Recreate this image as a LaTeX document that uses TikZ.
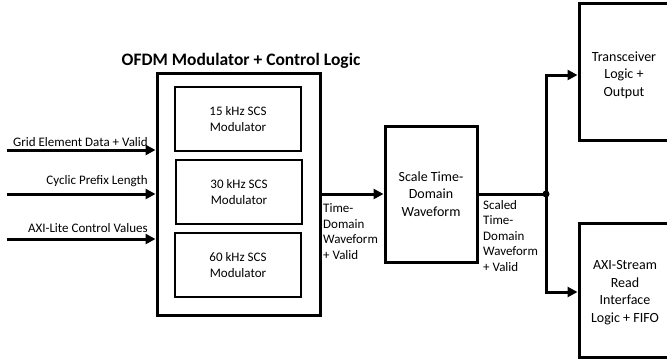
\documentclass[tikz,border=0pt]{standalone}
\usepackage{fontspec}
\setmainfont{Carlito}
\usetikzlibrary{arrows.meta}
\begin{document}
\begin{tikzpicture}[x=1pt,y=-1pt,
  thickbox/.style={draw,line width=3pt,inner sep=0pt},
  thinbox/.style={draw,line width=1.5pt,inner sep=0pt,align=center,font=\fontsize{13}{15.5}\selectfont},
  boxtext/.style={align=center,font=\fontsize{14}{17.5}\selectfont},
  lbl/.style={align=left,font=\fontsize{13}{15.5}\selectfont,inner sep=0pt},
  arr/.style={line width=3pt,-{Triangle[length=10pt,width=10pt]}},
  wire/.style={line width=3pt},
]
\useasboundingbox (0,0) rectangle (667,360);
% OFDM block
\node[thickbox,minimum width=163pt,minimum height=242pt] (ofdm) at (238.5,194) {};
\node[font=\bfseries\fontsize{17.5}{20}\selectfont,inner sep=0pt] (title) at (241,61) {OFDM Modulator + Control Logic};
\node[thinbox,minimum width=126pt,minimum height=64pt] (m15) at (238,119) {15 kHz SCS\\Modulator};
\node[thinbox,minimum width=126pt,minimum height=64pt] (m30) at (239,192) {30 kHz SCS\\Modulator};
\node[thinbox,minimum width=126pt,minimum height=64pt] (m60) at (238,265) {60 kHz SCS\\Modulator};
% inputs
\coordinate (i1) at (7,150);
\coordinate (i2) at (7,194);
\coordinate (i3) at (7,239);
\draw[arr] (i1) -- (i1 -| ofdm.west);
\draw[arr] (i2) -- (i2 -| ofdm.west);
\draw[arr] (i3) -- (i3 -| ofdm.west);
\node[lbl,anchor=east] (l1) at (148,142) {Grid Element Data + Valid};
\node[lbl,anchor=east] (l2) at (148,181) {Cyclic Prefix Length};
\node[lbl,anchor=east] (l3) at (148,228) {AXI-Lite Control Values};
% scale block
\node[thickbox,boxtext,minimum width=92pt,minimum height=136pt] (scale) at (431,194) {Scale Time-\\Domain\\Waveform};
\draw[arr] (ofdm.east) -- (scale.west);
\node[lbl,anchor=west] (l4) at (323,231.5) {Time-\\Domain\\Waveform\\+ Valid};
% junction
\coordinate (j) at (546,194);
\draw[wire] (scale.east) -- (j);
\fill (j) circle (3.5pt);
\node[lbl,anchor=west] (l5) at (483,236) {Scaled\\Time-\\Domain\\Waveform\\+ Valid};
% outputs
\node[thickbox,minimum width=91pt,minimum height=137pt] (tx) at (624.5,71.5) {};
\node[boxtext] (txt) at (624,75) {Transceiver\\Logic +\\Output};
\node[thickbox,minimum width=91pt,minimum height=134pt] (axi) at (624.5,290) {};
\node[boxtext] (axit) at (625,292.5) {AXI-Stream\\Read\\Interface\\Logic + FIFO};
\coordinate (tin) at (579,75);
\coordinate (ain) at (579,292);
\draw[arr] (j) |- (tx.west |- tin);
\draw[arr] (j) |- (axi.west |- ain);
\end{tikzpicture}
\end{document}
